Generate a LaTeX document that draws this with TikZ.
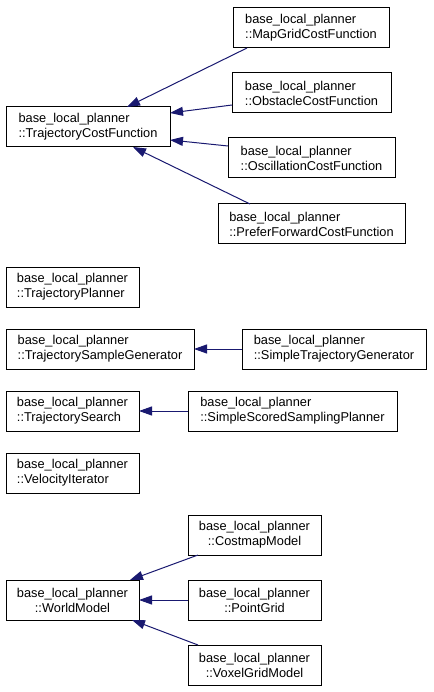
\documentclass[tikz,border=0pt]{standalone}
\usepackage{fontspec}
\setmainfont{Liberation Sans}
\usetikzlibrary{arrows.meta,positioning}
\definecolor{midnight}{RGB}{25,25,112}
\tikzstyle{cls} = [rectangle, draw, line width=1pt, minimum height=40pt, inner sep=0pt, outer sep=0pt, align=left, anchor=north west, font=\fontsize{12.8}{15}\selectfont]
\tikzstyle{clsc} = [cls, align=center]
\tikzstyle{line} = [draw, midnight, line width=1pt, -{Triangle[length=13pt,width=9pt]}]
\begin{document}
\begin{tikzpicture}[x=1pt,y=-1pt]
    \useasboundingbox (0,0) rectangle (433,692);
    % left column
    \node [cls, minimum width=164pt] (costfn) at (6,107) {base\_local\_planner\\::TrajectoryCostFunction};
    \node [cls, minimum width=133pt, below=120pt of costfn.south west, anchor=north west] (planner) {base\_local\_planner\\::TrajectoryPlanner};
    \node [cls, minimum width=188pt, below=22pt of planner.south west, anchor=north west] (sampler) {base\_local\_planner\\::TrajectorySampleGenerator};
    \node [cls, minimum width=133pt, below=22pt of sampler.south west, anchor=north west] (search) {base\_local\_planner\\::TrajectorySearch};
    \node [cls, minimum width=133pt, below=22pt of search.south west, anchor=north west] (velocity) {base\_local\_planner\\::VelocityIterator};
    \node [clsc, minimum width=133pt, below=87pt of velocity.south west, anchor=north west] (world) {base\_local\_planner\\::WorldModel};
    % derived classes
    \node [cls, minimum width=156pt] (mapgrid) at (233,8) {base\_local\_planner\\::MapGridCostFunction};
    \node [cls, minimum width=159pt] (obstacle) at (232,73) {base\_local\_planner\\::ObstacleCostFunction};
    \node [cls, minimum width=167pt] (oscill) at (228,138) {base\_local\_planner\\::OscillationCostFunction};
    \node [cls, minimum width=187pt] (prefer) at (218,204) {base\_local\_planner\\::PreferForwardCostFunction};
    \node [cls, minimum width=184pt, right=48pt of sampler] (simplegen) {base\_local\_planner\\::SimpleTrajectoryGenerator};
    \node [cls, minimum width=209pt, right=49pt of search] (scored) {base\_local\_planner\\::SimpleScoredSamplingPlanner};
    \node [clsc, minimum width=133pt, right=49pt of world] (pointgrid) {base\_local\_planner\\::PointGrid};
    \node [clsc, minimum width=133pt, above=25pt of pointgrid] (costmap) {base\_local\_planner\\::CostmapModel};
    \node [clsc, minimum width=133pt, below=25pt of pointgrid] (voxel) {base\_local\_planner\\::VoxelGridModel};
    % inheritance arrows
    \path [line] ([xshift=14pt]mapgrid.south west) -- ([xshift=-43pt]costfn.north east);
    \path [line] ([yshift=8pt]obstacle.south west) -- ([yshift=14pt]costfn.east);
    \path [line] ([yshift=-8pt]oscill.north west) -- ([yshift=-13pt]costfn.east);
    \path [line] ([xshift=32pt]prefer.north west) -- ([xshift=-37pt]costfn.south east);
    \path [line] (simplegen) -- (sampler);
    \path [line] (scored) -- (search);
    \path [line] ([xshift=10pt]costmap.south west) -- ([xshift=-9pt]world.north east);
    \path [line] (pointgrid) -- (world);
    \path [line] ([xshift=10pt]voxel.north west) -- ([xshift=-7pt]world.south east);
\end{tikzpicture}
\end{document}
